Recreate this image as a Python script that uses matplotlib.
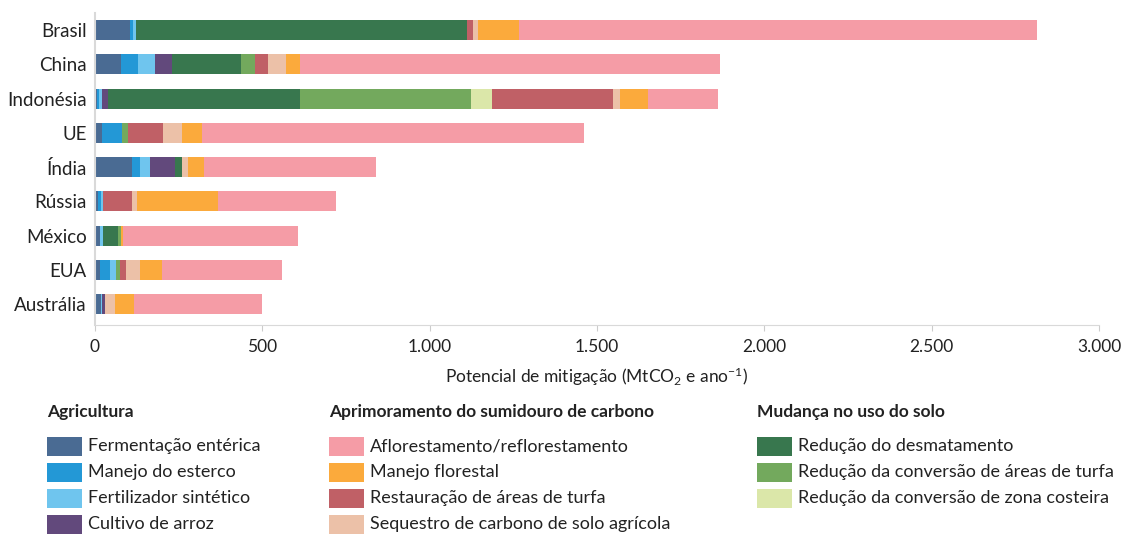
import matplotlib.pyplot as plt
from matplotlib.patches import Rectangle
from matplotlib.ticker import FuncFormatter
import numpy as np

plt.rcParams['font.family'] = ['Lato', 'DejaVu Sans']
plt.rcParams['mathtext.fontset'] = 'custom'
plt.rcParams['mathtext.rm'] = 'Lato'
plt.rcParams['mathtext.it'] = 'Lato'

countries = ["Brasil", "China", "Indonésia", "UE", "Índia", "Rússia", "México", "EUA", "Austrália"]

# MtCO2e/ano por categoria (na ordem de empilhamento)
fermentacao = [105, 78, 5, 21, 110, 9, 15, 15, 18]
esterco = [9, 51, 7, 60, 24, 9, 0, 30, 0]
fertilizante = [9, 51, 9, 0, 30, 6, 9, 18, 3]
arroz = [0, 51, 18, 0, 75, 0, 0, 0, 9]
desmatamento = [989, 206, 574, 0, 21, 0, 45, 0, 0]
turfa_conv = [0, 42, 511, 18, 0, 0, 9, 12, 0]
costeira = [0, 0, 63, 0, 0, 0, 0, 0, 0]
turfa_rest = [18, 39, 362, 105, 0, 87, 0, 18, 0]
solo = [15, 54, 21, 57, 18, 15, 0, 42, 30]
manejo_florestal = [123, 40, 81, 60, 48, 241, 7, 65, 56]
aflorestamento = [1547, 1257, 212, 1141, 514, 354, 522, 360, 383]

series = [
    ("Fermentação entérica", fermentacao, "#4a6b93"),
    ("Manejo do esterco", esterco, "#2398d6"),
    ("Fertilizador sintético", fertilizante, "#6fc5ee"),
    ("Cultivo de arroz", arroz, "#62497c"),
    ("Redução do desmatamento", desmatamento, "#38774e"),
    ("Redução da conversão de áreas de turfa", turfa_conv, "#73a95d"),
    ("Redução da conversão de zona costeira", costeira, "#dbe7a9"),
    ("Restauração de áreas de turfa", turfa_rest, "#c06066"),
    ("Sequestro de carbono de solo agrícola", solo, "#ecc1a8"),
    ("Manejo florestal", manejo_florestal, "#fbaa3c"),
    ("Aflorestamento/reflorestamento", aflorestamento, "#f59ca6"),
]
colors = {name: c for name, _, c in series}

groups = [
    ("Agricultura", ["Fermentação entérica", "Manejo do esterco",
                     "Fertilizador sintético", "Cultivo de arroz"]),
    ("Aprimoramento do sumidouro de carbono", ["Aflorestamento/reflorestamento", "Manejo florestal",
                                               "Restauração de áreas de turfa",
                                               "Sequestro de carbono de solo agrícola"]),
    ("Mudança no uso do solo", ["Redução do desmatamento", "Redução da conversão de áreas de turfa",
                                "Redução da conversão de zona costeira"]),
]

W, H = 1121, 536
TXT = "#222222"
fig = plt.figure(figsize=(W / 100, H / 100), dpi=100)
ax = fig.add_axes([95 / W, 1 - 325 / H, 1004 / W, 312 / H])

y = np.arange(len(countries))
left = np.zeros(len(countries))
for name, vals, c in series:
    vals = np.array(vals, dtype=float)
    ax.barh(y, vals, left=left, height=0.58, color=c, linewidth=0)
    left += vals

ax.set_xlim(0, 3000)
ax.set_ylim(8.61, -0.5)
ax.set_yticks(y)
ax.set_yticklabels(countries, fontsize=13.5, color=TXT)
ax.set_xticks(np.arange(0, 3001, 500))
ax.xaxis.set_major_formatter(FuncFormatter(lambda v, p: f"{int(v):,}".replace(",", ".")))
ax.tick_params(axis="x", labelsize=12.5, colors="#cccccc", labelcolor=TXT, length=4, pad=6)
ax.tick_params(axis="y", length=0, pad=6)
for s in ["top", "right"]:
    ax.spines[s].set_visible(False)
ax.spines["left"].set_color("#d9d9d9")
ax.spines["left"].set_linewidth(1.5)
ax.spines["bottom"].set_color("#d9d9d9")
ax.set_xlabel("Potencial de mitigação (MtCO$_2$ e ano$^{-1}$)", fontsize=12.5, color=TXT, labelpad=8)

# legenda manual em três colunas
col_x = [47, 329, 757]
for (title, names), x0 in zip(groups, col_x):
    fig.text(x0 / W, 1 - 412 / H, title, fontsize=12.5, fontweight="bold", color=TXT, va="center", ha="left")
    for i, name in enumerate(names):
        yc = 446 + 26 * i
        fig.add_artist(Rectangle((x0 / W, 1 - (yc + 9.5) / H), 35 / W, 19 / H,
                                 transform=fig.transFigure, color=colors[name], linewidth=0))
        fig.text((x0 + 41) / W, 1 - yc / H, name, fontsize=13, color=TXT, va="center", ha="left")

fig.savefig("out.png", dpi=100)
